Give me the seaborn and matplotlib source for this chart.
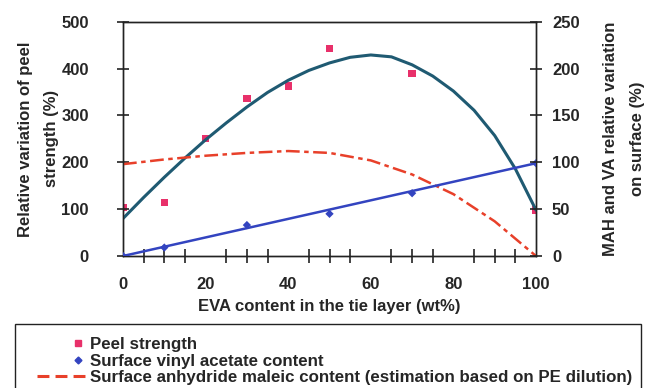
import matplotlib
matplotlib.use("Agg")
import matplotlib.pyplot as plt
from matplotlib.lines import Line2D
from matplotlib.patches import Rectangle
from matplotlib.legend_handler import HandlerLine2D
import numpy as np
import seaborn as sns
import pandas as pd

# ---- data ----
peel_x = [0, 10, 20, 30, 40, 50, 70, 100]
peel_y = [103, 114, 251, 336, 363, 443, 390, 98]

fit_x = [0, 5, 10, 15, 20, 25, 30, 35, 40, 45, 50, 55, 60, 65, 70, 75, 80, 85, 90, 95, 100]
fit_y = [80, 125, 168, 209, 248, 284, 318, 349, 375, 396, 412, 424, 429, 425, 408, 384, 352, 311, 257, 186, 98]

va_x = [0, 10, 30, 50, 70, 100]
va_y = [0, 9, 33, 45, 67, 99]
va_line_x = [0, 100]
va_line_y = [0, 99]

mah_x = [0, 10, 20, 30, 40, 50, 60, 70, 80, 90, 100]
mah_y = [98, 103, 107, 110, 112, 110, 102, 87, 66, 37, 0]

legend_labels = ["Peel strength", "Surface vinyl acetate content",
                 "Surface anhydride maleic content (estimation based on PE dilution)"]

x_label = "EVA content in the tie layer (wt%)"
y_label_left = "Relative variation of peel\nstrength (%)"
y_label_right = "MAH and VA relative variation\non surface (%)"

# ---- style ----
sns.set_theme(style="ticks")
plt.rcParams['font.family'] = ['Liberation Sans', 'DejaVu Sans']
plt.rcParams['font.weight'] = 'bold'

PINK = "#e8306a"
TEAL = "#1f5a72"
BLUE = "#3344c0"
RED = "#e8402a"
DARK = "#222222"

fig = plt.figure(figsize=(6.5, 3.88), dpi=100)
ax = fig.add_axes([123/650, 1-256/388, (536-123)/650, (256-21.7)/388])
ax2 = ax.twinx()

df_fit = pd.DataFrame({"x": fit_x, "y": fit_y})
df_peel = pd.DataFrame({"x": peel_x, "y": peel_y})
df_va = pd.DataFrame({"x": va_x, "y": va_y})
df_val = pd.DataFrame({"x": va_line_x, "y": va_line_y})
df_mah = pd.DataFrame({"x": mah_x, "y": mah_y})

sns.lineplot(data=df_fit, x="x", y="y", ax=ax, color=TEAL, lw=2.2, sort=False, zorder=3)
sns.scatterplot(data=df_peel, x="x", y="y", ax=ax, color=PINK, marker="s", s=28,
                edgecolor="none", zorder=2)

sns.lineplot(data=df_val, x="x", y="y", ax=ax2, color=BLUE, lw=1.8, zorder=3)
sns.scatterplot(data=df_va, x="x", y="y", ax=ax2, color=BLUE, marker="D", s=18,
                edgecolor="none", zorder=3)
sns.lineplot(data=df_mah, x="x", y="y", ax=ax2, color=RED, lw=1.8, zorder=2)
ax2.lines[-1].set_dashes([5.5, 1.8, 1.8, 1.8])

ax.set_xlim(0, 100)
ax.set_ylim(0, 500)
ax2.set_ylim(0, 250)
ax.set_xticks(range(0, 101, 20))
ax.set_xticks(range(0, 101, 5), minor=True)
ax.set_yticks(range(0, 501, 100))
ax2.set_yticks(range(0, 251, 50))

for a in (ax, ax2):
    for s in a.spines.values():
        s.set_color(DARK)
        s.set_linewidth(1.0)
        s.set_visible(True)

# tick labels (tick marks drawn below as crossing segments at the locator positions)
ax.tick_params(axis='x', which='both', length=0, labelsize=12, pad=15, bottom=True, top=False)
ax.tick_params(axis='y', which='major', length=0, labelsize=12, pad=24.5, left=True, right=False)
ax2.tick_params(axis='y', which='major', length=0, labelsize=12, pad=11.5, right=True, left=False)
for lab in ax.get_xticklabels() + ax.get_yticklabels() + ax2.get_yticklabels():
    lab.set_fontweight('bold')

ax.vlines(ax.get_xticks(minor=True), -0.03, 0.03, transform=ax.get_xaxis_transform(),
          colors=DARK, lw=1.2, clip_on=False, zorder=5)
ax.hlines(ax.get_yticks(), -0.0145, 0.0145, transform=ax.get_yaxis_transform(),
          colors=DARK, lw=1.2, clip_on=False, zorder=5)
ax2.hlines(ax2.get_yticks(), 1 - 0.0145, 1 + 0.0145, transform=ax2.get_yaxis_transform(),
           colors=DARK, lw=1.2, clip_on=False, zorder=5)

ax.set_xlabel(x_label, fontsize=12, fontweight='bold', labelpad=5)
ax.set_ylabel(y_label_left, fontsize=12, fontweight='bold', labelpad=2, linespacing=1.85)
ax2.set_ylabel(y_label_right, fontsize=12, fontweight='bold', labelpad=17, linespacing=1.95)


class RightMarkerHandler(HandlerLine2D):
    def get_xdata(self, legend, xdescent, ydescent, width, height, fontsize):
        c = -xdescent + width * 0.83
        xdata = np.array([c - 1.0, c + 1.0])
        return xdata, np.array([c])


# legend box
fig.patches.append(Rectangle((15/650, -0.05), (641-15)/650, (388-324)/388 + 0.05,
                             transform=fig.transFigure, fill=False, edgecolor=DARK,
                             lw=1.0, zorder=5))
h_peel = Line2D([], [], ls='none', marker='s', color=PINK, markersize=4)
h_va = Line2D([], [], ls='none', marker='D', color=BLUE, markersize=3.5)
h_mah = Line2D([], [], color=RED, lw=2.2, dashes=[3.9, 2.0])
leg = fig.legend([h_peel, h_va, h_mah], legend_labels, loc='upper left',
                 bbox_to_anchor=(37/650, 1 - 337/388), frameon=False,
                 prop={'size': 12.2, 'weight': 'bold'}, handlelength=2.9,
                 handletextpad=0.2, labelspacing=0.1, borderpad=0, borderaxespad=0,
                 handler_map={h_peel: RightMarkerHandler(), h_va: RightMarkerHandler()})

fig.savefig("out.png", dpi=100)
